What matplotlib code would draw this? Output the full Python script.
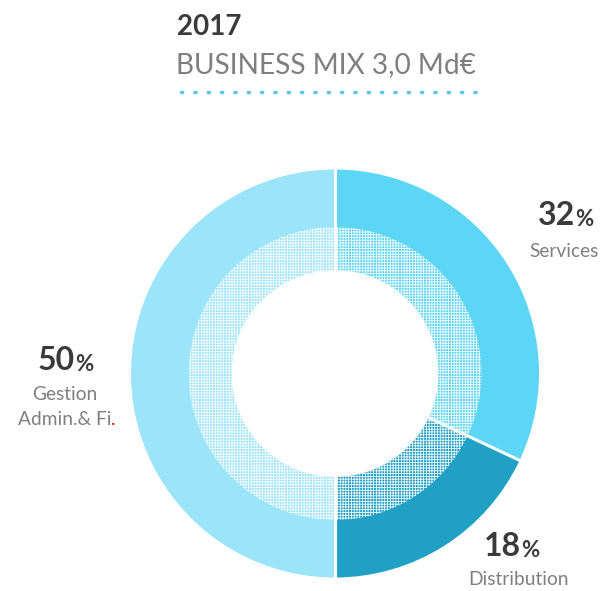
import numpy as np
import matplotlib.pyplot as plt

# Données
categories = ['Services', 'Distribution', 'Gestion\nAdmin.& Fi']
parts = [32, 18, 50]
labels_pct = ['32', '18', '50']
colors = ['#5DD6F6', '#1FA0C4', '#9BE4F9']

W, H = 606, 591
plt.rcParams['font.family'] = ['Lato', 'DejaVu Sans']
plt.rcParams['hatch.linewidth'] = 0.55
plt.rcParams['hatch.color'] = 'white'

fig = plt.figure(figsize=(W / 100, H / 100), dpi=100)
ax = fig.add_axes([0, 0, 1, 1])

cx, cy = 335, H - 373.5
R_out, R_mid, R_in = 204, 146.5, 103.5

# anneau extérieur
outer, _ = ax.pie(parts, colors=colors, startangle=90, counterclock=False,
                  center=(cx, cy), radius=R_out,
                  wedgeprops=dict(width=R_out - R_mid + 0.5, linewidth=0))

# anneau intérieur tramé
inner, _ = ax.pie(parts, colors=colors, startangle=90, counterclock=False,
                  center=(cx, cy), radius=R_mid,
                  wedgeprops=dict(width=R_mid - R_in, edgecolor='white', linewidth=0,
                                  hatch='++++++'))

# séparateurs blancs
for w in outer:
    a = np.deg2rad(w.theta1)
    ax.plot([cx + R_in * np.cos(a), cx + (R_out + 2) * np.cos(a)],
            [cy + R_in * np.sin(a), cy + (R_out + 2) * np.sin(a)],
            color='white', linewidth=2.2)

ax.set_xlim(0, W)
ax.set_ylim(0, H)
ax.set_aspect('auto')
ax.axis('off')

# Titre
ax.text(177, H - 35, '2017', fontsize=20, fontweight='bold', color='#3A3A3A', va='baseline')
ax.text(176, H - 73, 'BUSINESS MIX 3,0 Md€', fontsize=20.2, color='#7F7F7F', va='baseline')
ax.plot([181, 476], [H - 92, H - 92], linestyle=(0, (0.4, 3.6)), linewidth=2.4,
        color='#55C6E8', dash_capstyle='round', solid_capstyle='round')

dark = '#3A3A3A'
grey = '#7F7F7F'
fs_sub = 13.8


def pct_label(x, y, num):
    t = ax.text(x, y, num, fontsize=23, fontweight='bold', color=dark, ha='right', va='baseline')
    ax.annotate('%', xy=(1, 0), xycoords=t, fontsize=16, fontweight='bold', color=dark,
                va='bottom')


# Services
pct_label(575, H - 225, labels_pct[0])
ax.text(564, H - 257, 'Services', fontsize=fs_sub, color=grey, ha='center', va='baseline')

# Distribution
pct_label(521, H - 556, labels_pct[1])
ax.text(519, H - 585, 'Distribution', fontsize=fs_sub, color=grey, ha='center', va='baseline')

# Gestion
pct_label(75, H - 370, labels_pct[2])
ax.text(65, H - 400, 'Gestion', fontsize=fs_sub, color=grey, ha='center', va='baseline')
t = ax.text(111, H - 425, 'Admin.& Fi', fontsize=fs_sub, color=grey, ha='right', va='baseline')
ax.annotate('.', xy=(1, 0), xycoords=t, fontsize=fs_sub, color='#FF0000', va='bottom')

fig.savefig('out.png', dpi=100)
